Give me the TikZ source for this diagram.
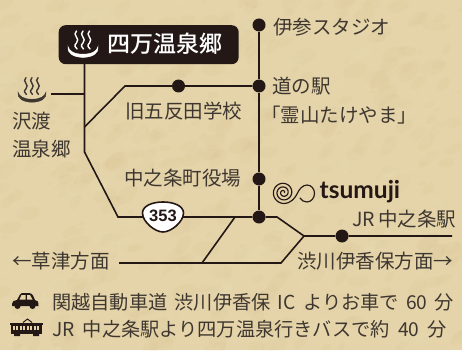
\documentclass[tikz,border=0pt]{standalone}
\usepackage{fontspec}
\setmainfont{Noto Sans CJK JP}
\newfontfamily\medf[UprightFont=* Medium]{Noto Sans CJK JP}
\newfontfamily\latinf{Lato}
\newfontfamily\numf{Liberation Sans}
\usetikzlibrary{calc}
\definecolor{paper}{HTML}{E5D3A9}
\definecolor{paperd}{HTML}{CFB783}
\definecolor{paperl}{HTML}{F1E4C4}
\definecolor{ink}{HTML}{231815}
\definecolor{txt}{HTML}{3E3730}
\newcommand{\gapa}{\hspace{3pt}}
\tikzset{
  road/.style={draw=ink,line width=1.6pt,line join=miter},
  stopdot/.style={circle,fill=ink,inner sep=0pt,minimum size=13pt},
  lab/.style={anchor=base west,inner sep=0pt,text=txt,font=\fontsize{19.5}{19.5}\selectfont},
  info/.style={anchor=base west,inner sep=0pt,text=txt,font=\fontsize{19.2}{19.2}\selectfont},
  onsen/.pic={
    \fill[pic actions] (-15,-8.5) .. controls (-16.5,-2.5) and (-10,2.4) .. (0,2.4) .. controls (10,2.4) and (16.5,-2.5) .. (15,-8.5) .. controls (14,-4) and (9,-0.8) .. (0,-0.8) .. controls (-9,-0.8) and (-14,-4) .. (-15,-8.5) -- cycle;
    \foreach \dx in {-6.5,0,6.5}{
      \draw[pic actions,fill=none,line width=1.4pt,line cap=round] (\dx,-24) .. controls (\dx-5,-20) and (\dx+4.5,-16.5) .. (\dx,-12) .. controls (\dx-3,-9.5) and (\dx-1,-7.5) .. (\dx+0.5,-6);
    }
  }
}
\begin{document}
\begin{tikzpicture}[x=1pt,y=-1pt]
\useasboundingbox (0,0) rectangle (462,350);
\fill[paper] (0,0) rectangle (462,350);
\pgfmathsetseed{7}
\foreach \i in {1,...,900}{
  \pgfmathsetmacro\px{rnd*462}\pgfmathsetmacro\py{rnd*350}
  \pgfmathsetmacro\pr{2+rnd*12}\pgfmathsetmacro\pa{rnd}\pgfmathsetmacro\pb{rnd*60}
  \ifdim\pa pt<0.5pt
    \fill[paperd,opacity=0.07,rotate around={\pb:(\px,\py)}] (\px,\py) ellipse ({\pr} and {\pr*0.55});
  \else
    \fill[paperl,opacity=0.07,rotate around={\pb:(\px,\py)}] (\px,\py) ellipse ({\pr} and {\pr*0.55});
  \fi
}
% title box
\node[fill=ink,rounded corners=7pt,minimum width=180pt,minimum height=39pt,inner sep=0pt,anchor=north west] (title) at (58.5,25) {};
\node[anchor=base west,inner sep=0pt,text=white,font=\fontsize{23}{23}\medf] (titletext) at (107.5,52.5) {四万温泉郷};
\pic[draw=white,fill=white] at (83,55) {onsen};
% junction coordinates
\coordinate (t1) at (84.5,64);
\coordinate (j1) at (84.5,94);
\coordinate (j2) at (84.5,127);
\coordinate (j3) at (84.5,152);
\coordinate (c1) at (118,217);
\coordinate (c2) at (125,86);
\coordinate (e1) at (51,94);
\coordinate (c3) at (277,217);
\coordinate (j4) at (304,236);
\coordinate (e2) at (452,236);
\coordinate (e3) at (119,263);
\coordinate (j5) at (202,263);
\coordinate (j6) at (235,217);
\coordinate (c4) at (281,263);
% stops
\node[stopdot] (iseki) at (259,25) {};
\node[stopdot] (michi) at (259,86) {};
\node[stopdot] (yakuba) at (259,179) {};
\node[stopdot] (cross) at (259,217) {};
\node[stopdot] (goten) at (178.5,86) {};
\node[stopdot] (jr) at (342,236) {};
% roads
\draw[road] (t1) -- (j3) -- (c1) -- (cross);
\draw[road] (e1) -- (j1);
\draw[road] (j2) -- (c2) -- (goten) -- (michi);
\draw[road] (iseki) -- (michi) -- (yakuba) -- (cross);
\draw[road] (cross) -- (c3) -- (j4) -- (jr) -- (e2);
\draw[road] (e3) -- (j5) -- (c4) -- (j4);
\draw[road] (j5) -- (j6);
% route shield
\path[fill=white,draw=ink,line width=1.6pt] (163,232) .. controls (155,232) and (142.5,222) .. (142.5,213) .. controls (142.5,206) and (152,202) .. (163,202) .. controls (174,202) and (183.5,206) .. (183.5,213) .. controls (183.5,222) and (171,232) .. (163,232) -- cycle;
\node[inner sep=0pt,text=ink,font=\fontsize{16.5}{16.5}\numf\bfseries] (r353) at (163,215.5) {353};
% labels
\pic[draw=txt,fill=txt,scale=0.93] at (32,100) {onsen};
\node[lab] (l1) at (12,128) {沢渡};
\node[lab] (l2) at (12,156) {温泉郷};
\node[lab] (l3) at (125,118) {旧五反田学校};
\node[lab] (l4) at (273,35) {伊参スタジオ};
\node[lab] (l5) at (272,94) {道の駅};
\node[lab] (l6) at (261,122) {「霊山たけやま」};
\node[lab] (l7) at (124,185) {中之条町役場};
\node[lab,text=ink,font=\fontsize{24.5}{24.5}\latinf\bfseries] (l8) at (319.5,198) {tsumuji};
\node[lab] (l9) at (352,226) {JR\,中之条駅};
\node[lab] (l10) at (12,268) {←草津方面};
\node[lab] (l11) at (297,268) {渋川伊香保方面→};
\node[info] (i1) at (52,309) {関越自動車道 \gapa{}渋川伊香保 \gapa{}IC \gapa{}よりお車で \gapa{}60 \gapa{}分};
\node[info] (i2) at (52,336) {JR \hspace{4pt}中之条駅より四万温泉行きバスで約 \hspace{4pt}40 \hspace{4pt}分};
% spiral
\draw[ink,line width=1.15pt,line cap=round] plot[smooth,domain=0:990,samples=80,variable=\t] ({283.5+(1+10*\t/990)*cos(-\t)},{192.5+(1+10*\t/990)*sin(-\t)}) .. controls (291,203.5) and (295,198) .. (297,194) .. controls (299,189) and (303,185) .. (307,185) .. controls (311.5,185) and (314.5,189) .. (314.5,193.5) .. controls (314.5,198) and (311,202) .. (307,202) .. controls (304,202) and (301.5,200.5) .. (300,198);
% car
\fill[ink] (12,304) .. controls (12,301) and (14,300.5) .. (17,300) -- (20,294.5) .. controls (20.5,293.5) and (21,293) .. (22,293) -- (29,293) .. controls (31,293) and (32,294) .. (33,295.5) -- (35,300) .. controls (38,300.5) and (38.5,301.5) .. (38.5,306) -- (12,306) -- cycle;
\fill[paper] (21.5,295) -- (25.5,295) -- (25.5,299.5) -- (19.5,299.5) -- cycle (27,295) -- (30,295) -- (32.5,299.5) -- (27,299.5) -- cycle;
\fill[ink] (17.5,306) circle (3) (32.5,306) circle (3);
% train
\fill[ink] (10,322.5) rectangle (43,325);
\fill[ink] (11,325) rectangle (42,333.5);
\fill[ink] (14,333.5) rectangle (20,336) (33,333.5) rectangle (39,336);
\foreach \vx in {12.5,16,19.5,23,26.5,30,33.5,37}{\fill[paper] (\vx,325.5) rectangle (\vx+2.3,329.5);}
\draw[ink,line width=1pt] (23,322.5) -- (27.5,319) -- (32,322.5);
\end{tikzpicture}
\end{document}
